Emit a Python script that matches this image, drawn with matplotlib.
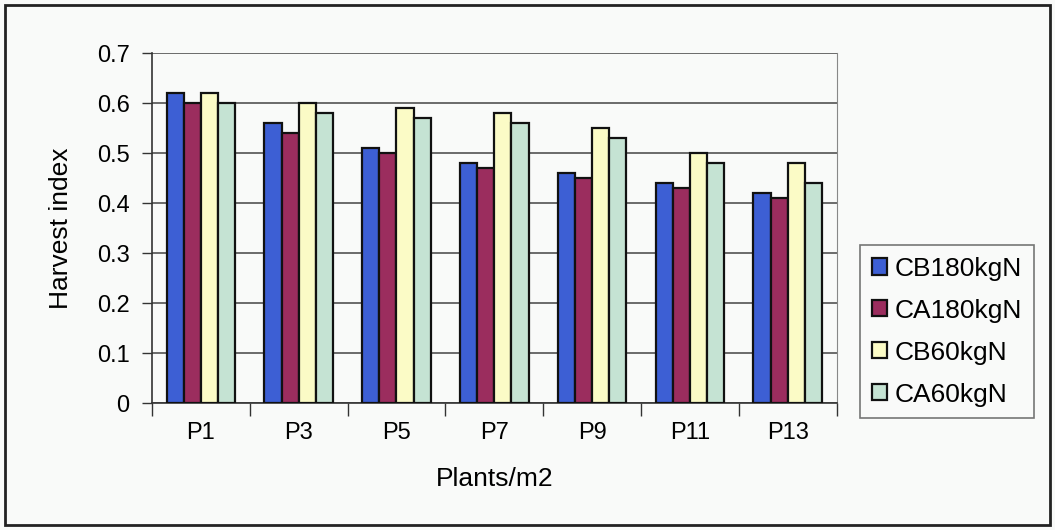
import numpy as np
import matplotlib
matplotlib.use("Agg")
import matplotlib.pyplot as plt
from matplotlib.patches import Rectangle

plt.rcParams["font.family"] = ["Liberation Sans", "DejaVu Sans"]

categories = ["P1", "P3", "P5", "P7", "P9", "P11", "P13"]
series_names = ["CB180kgN", "CA180kgN", "CB60kgN", "CA60kgN"]
cb180 = [0.62, 0.56, 0.51, 0.48, 0.46, 0.44, 0.42]
ca180 = [0.60, 0.54, 0.50, 0.47, 0.45, 0.43, 0.41]
cb60 = [0.62, 0.60, 0.59, 0.58, 0.55, 0.50, 0.48]
ca60 = [0.60, 0.58, 0.57, 0.56, 0.53, 0.48, 0.44]
yticks = [0, 0.1, 0.2, 0.3, 0.4, 0.5, 0.6, 0.7]
ytick_labels = ["0", "0.1", "0.2", "0.3", "0.4", "0.5", "0.6", "0.7"]

colors = ["#3d5fd4", "#9b2d5e", "#fbfbc6", "#c5e3d3"]

fig = plt.figure(figsize=(10.55, 5.30), dpi=100)
fig.patch.set_facecolor("#f9faf9")

# outer chart border
fig.add_artist(Rectangle((0.005, 0.009), 0.99, 0.982, transform=fig.transFigure,
                         fill=False, edgecolor="#222222", linewidth=2))

ax = fig.add_axes([0.144, 0.2396, 0.649, 0.660])
ax.set_facecolor("none")

x = np.arange(len(categories))
width = 0.175
all_series = [cb180, ca180, cb60, ca60]
for i, (vals, name) in enumerate(zip(all_series, series_names)):
    offs = (i - 1.5) * width
    ax.bar(x + offs, vals, width, color=colors[i], edgecolor="#111111",
           linewidth=1.6, label=name, zorder=3)

ax.set_xlim(-0.5, len(categories) - 0.5)
ax.set_ylim(0, 0.7)
ax.set_yticks(yticks)
ax.set_yticklabels(ytick_labels, fontsize=17)
ax.yaxis.grid(True, color="#444444", linewidth=1.1, zorder=0)
ax.set_axisbelow(True)

# category ticks between groups, labels centred under groups
ax.set_xticks(np.arange(len(categories) + 1) - 0.5)
ax.set_xticklabels([])
ax.set_xticks(x, minor=True)
ax.set_xticklabels(categories, minor=True, fontsize=17)
ax.tick_params(axis="x", which="major", direction="out", length=9, width=1, color="#333333")
ax.tick_params(axis="x", which="minor", length=0, pad=14)
ax.tick_params(axis="y", direction="out", length=7, width=1, color="#333333", pad=9)

ax.spines["top"].set_visible(False)
ax.spines["right"].set_color("#888888")
ax.spines["left"].set_color("#333333")
ax.spines["bottom"].set_color("#333333")
ax.spines["left"].set_linewidth(1.2)
ax.spines["bottom"].set_linewidth(1.2)

ax.set_ylabel("Harvest index", fontsize=19, labelpad=17)
ax.set_xlabel("Plants/m2", fontsize=19, labelpad=16)

leg = fig.legend(loc="upper left", bbox_to_anchor=(0.815, 0.538), fontsize=19,
                 frameon=True, fancybox=False, handlelength=0.57, handleheight=0.57,
                 handletextpad=0.3, labelspacing=0.68, borderpad=0.45, borderaxespad=0)
leg.get_frame().set_edgecolor("#555555")
leg.get_frame().set_linewidth(1.2)
leg.get_frame().set_facecolor("#f9faf9")

fig.savefig("out.png", dpi=100, facecolor=fig.get_facecolor())
